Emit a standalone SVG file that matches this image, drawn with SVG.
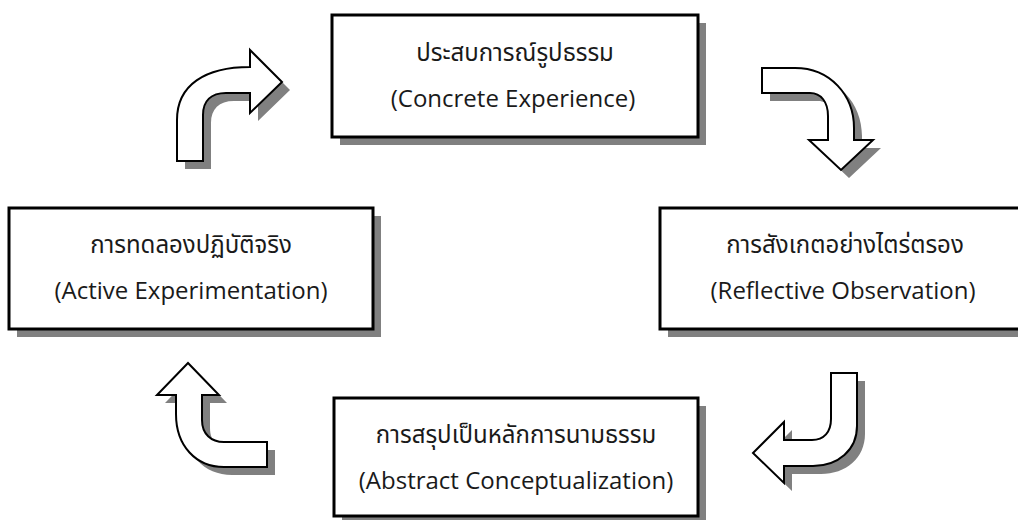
<svg xmlns="http://www.w3.org/2000/svg" width="1018" height="520" viewBox="0 0 1018 520">
  <defs>
    <style>
      .box { fill: #ffffff; stroke: #000000; stroke-width: 3; }
      .shadow { fill: #808080; stroke: none; }
      .arrow { fill: #ffffff; stroke: #000000; stroke-width: 2; stroke-linejoin: miter; }
      .label { font-family: "Open Sans", "Noto Sans", "Noto Sans Thai", "Leelawadee UI", sans-serif; font-size: 24px; fill: #1a1a1a; text-anchor: middle; }
    </style>
    <!-- block arrow outlines, reused for the drop shadow and the face -->
    <path id="arrowUpRight" d="M177,161 L177,120 C177,85 205,67 250,67 L250,50 L282,82 L250,113 L250,93 L226,93 C211,93 203,101 203,115 L203,161 Z"/>
    <path id="arrowRightDown" d="M762,68 L795,68 C830,68 854,95 854,128 L854,140 L873,140 L841,170 L809,140 L828,140 L828,116 C828,102 821,93 810,93 L762,93 Z"/>
    <path id="arrowDownLeft" d="M831,373 L857,373 L857,426 C857,450 838,466 813,466 L784,466 L784,483 L753,453 L784,422 L784,440 L812,440 C824,440 831,432 831,419 Z"/>
    <path id="arrowLeftUp" d="M267,467 L267,442 L224,442 C211,442 202,434 202,420 L202,395 L219,395 L188,363 L157,395 L176,395 L176,414 C176,446 196,467 224,467 Z"/>
  </defs>

  <rect width="1018" height="520" fill="#ffffff"/>

  <!-- connectors: curved block arrows running clockwise -->
  <g id="connectors">
    <g id="arrow-ae-ce">
      <use href="#arrowUpRight" class="shadow" transform="translate(8,8)"/>
      <use href="#arrowUpRight" class="arrow"/>
    </g>
    <g id="arrow-ce-ro">
      <use href="#arrowRightDown" class="shadow" transform="translate(8,8)"/>
      <use href="#arrowRightDown" class="arrow"/>
    </g>
    <g id="arrow-ro-ac">
      <use href="#arrowDownLeft" class="shadow" transform="translate(8,8)"/>
      <use href="#arrowDownLeft" class="arrow"/>
    </g>
    <g id="arrow-ac-ae">
      <use href="#arrowLeftUp" class="shadow" transform="translate(8,8)"/>
      <use href="#arrowLeftUp" class="arrow"/>
    </g>
  </g>

  <!-- stage boxes -->
  <g id="concrete-experience">
    <rect class="shadow" x="340" y="23" width="366" height="122"/>
    <rect class="box" x="332" y="15" width="366" height="122"/>
    <text class="label" x="515" y="61">ประสบการณ์รูปธรรม</text>
    <text class="label" x="513" y="107">(Concrete Experience)</text>
  </g>

  <g id="reflective-observation">
    <rect class="shadow" x="668" y="216" width="366" height="121"/>
    <rect class="box" x="660" y="208" width="366" height="121"/>
    <text class="label" x="845" y="253">การสังเกตอย่างไตร่ตรอง</text>
    <text class="label" x="843" y="299">(Reflective Observation)</text>
  </g>

  <g id="abstract-conceptualization">
    <rect class="shadow" x="342" y="406" width="364" height="118"/>
    <rect class="box" x="334" y="398" width="364" height="118"/>
    <text class="label" x="516" y="443">การสรุปเป็นหลักการนามธรรม</text>
    <text class="label" x="516" y="489">(Abstract Conceptualization)</text>
  </g>

  <g id="active-experimentation">
    <rect class="shadow" x="17" y="216" width="364" height="121"/>
    <rect class="box" x="9" y="208" width="364" height="121"/>
    <text class="label" x="191" y="253">การทดลองปฏิบัติจริง</text>
    <text class="label" x="191" y="299">(Active Experimentation)</text>
  </g>
</svg>
